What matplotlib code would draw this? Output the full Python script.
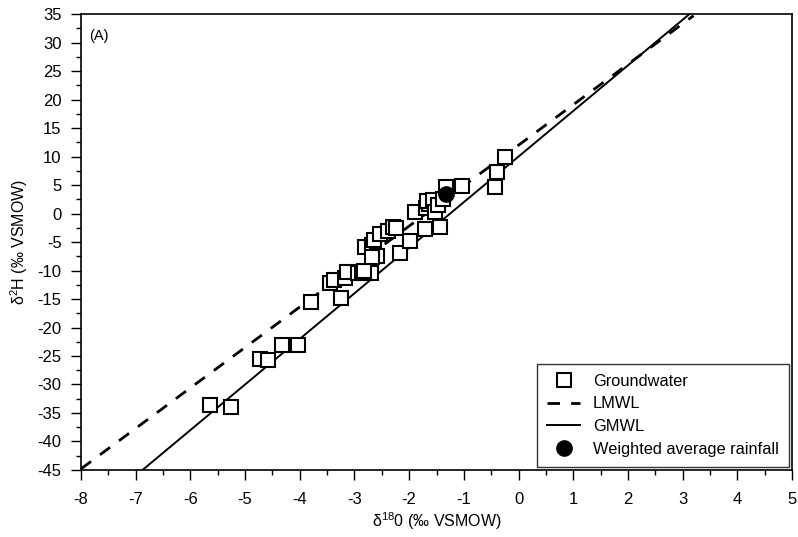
import numpy as np
import matplotlib
matplotlib.use('Agg')
import matplotlib.pyplot as plt
from matplotlib.ticker import MultipleLocator

plt.rcParams['font.family'] = ['Liberation Sans', 'DejaVu Sans']
plt.rcParams['mathtext.fontset'] = 'custom'
plt.rcParams['mathtext.rm'] = 'Liberation Sans'
plt.rcParams['mathtext.default'] = 'regular'
plt.rcParams['axes.unicode_minus'] = False

# groundwater samples, d18O / d2H (permil VSMOW)
gw_d18o = [-5.65, -5.25, -4.72, -4.58, -4.32, -4.03, -3.80, -3.25, -3.45, -3.38,
           -3.17, -3.13, -2.93, -2.87, -2.70, -2.82, -2.80, -2.68, -2.65, -2.58,
           -2.68, -2.54, -2.38, -2.30, -2.24, -2.17, -1.99, -1.71, -1.44, -1.89,
           -1.70, -1.64, -1.68, -1.56, -1.52, -1.47, -1.38, -1.32, -1.04, -0.43,
           -0.39, -0.25]
gw_d2h = [-33.6, -33.9, -25.6, -25.7, -23.0, -23.1, -15.6, -14.8, -12.2, -11.6,
          -11.4, -10.2, -10.5, -10.4, -10.5, -10.0, -5.8, -5.6, -4.6, -7.5,
          -7.6, -3.6, -3.0, -2.4, -2.6, -6.9, -4.9, -2.7, -2.4, 0.3,
          0.9, 1.7, 2.2, 2.4, 0.2, 1.5, 2.6, 4.6, 4.9, 4.6,
          7.2, 9.9]

# weighted average rainfall
rain_d18o = [-1.32]
rain_d2h = [3.4]

# meteoric water lines: d2H = slope * d18O + intercept
lmwl_slope, lmwl_int = 7.1, 12.0
gmwl_slope, gmwl_int = 8.0, 10.0
lmwl_x = [-8, 3.2]
gmwl_x = [-6.875, 3.2]

fig = plt.figure(figsize=(7.98, 5.37), dpi=100)
ax = fig.add_axes([0.1015, 0.1248, 0.891, 0.849])

ax.plot(gw_d18o, gw_d2h, 's', ms=10, mfc='white', mec='black', mew=1.5,
        label='Groundwater', zorder=3)
lx = np.array(lmwl_x)
ax.plot(lx, lmwl_slope * lx + lmwl_int, color='black', lw=2, dashes=(4.5, 4),
        label='LMWL', zorder=2)
gx = np.array(gmwl_x)
ax.plot(gx, gmwl_slope * gx + gmwl_int, color='black', lw=1.4, label='GMWL', zorder=2)
ax.plot(rain_d18o, rain_d2h, 'o', ms=11, color='black',
        label='Weighted average rainfall', zorder=4)

ax.set_xlim(-8, 5)
ax.set_ylim(-45, 35)
ax.xaxis.set_major_locator(MultipleLocator(1))
ax.xaxis.set_minor_locator(MultipleLocator(0.5))
ax.yaxis.set_major_locator(MultipleLocator(5))
ax.yaxis.set_minor_locator(MultipleLocator(2.5))
ax.tick_params(which='major', direction='out', length=7, width=1, labelsize=12, colors='black')
ax.tick_params(axis='x', which='major', pad=9)
ax.tick_params(axis='y', which='major', pad=7)
ax.tick_params(which='minor', direction='out', length=3.5, width=1)
for s in ax.spines.values():
    s.set_linewidth(1.2)

ax.set_xlabel('δ$^{18}$0 (‰ VSMOW)', fontsize=11.5, labelpad=2)
ax.set_ylabel('δ$^{2}$H (‰ VSMOW)', fontsize=11.5, labelpad=5)
ax.text(0.012, 0.967, '(A)', transform=ax.transAxes, fontsize=10.5, va='top')

leg = ax.legend(loc='lower right', fontsize=11.8, frameon=True, fancybox=False,
                edgecolor='black', borderaxespad=0.2, handlelength=2.0,
                handletextpad=0.8, labelspacing=0.47, borderpad=0.6)
leg.get_frame().set_linewidth(1)

plt.savefig('out.png', dpi=100)
